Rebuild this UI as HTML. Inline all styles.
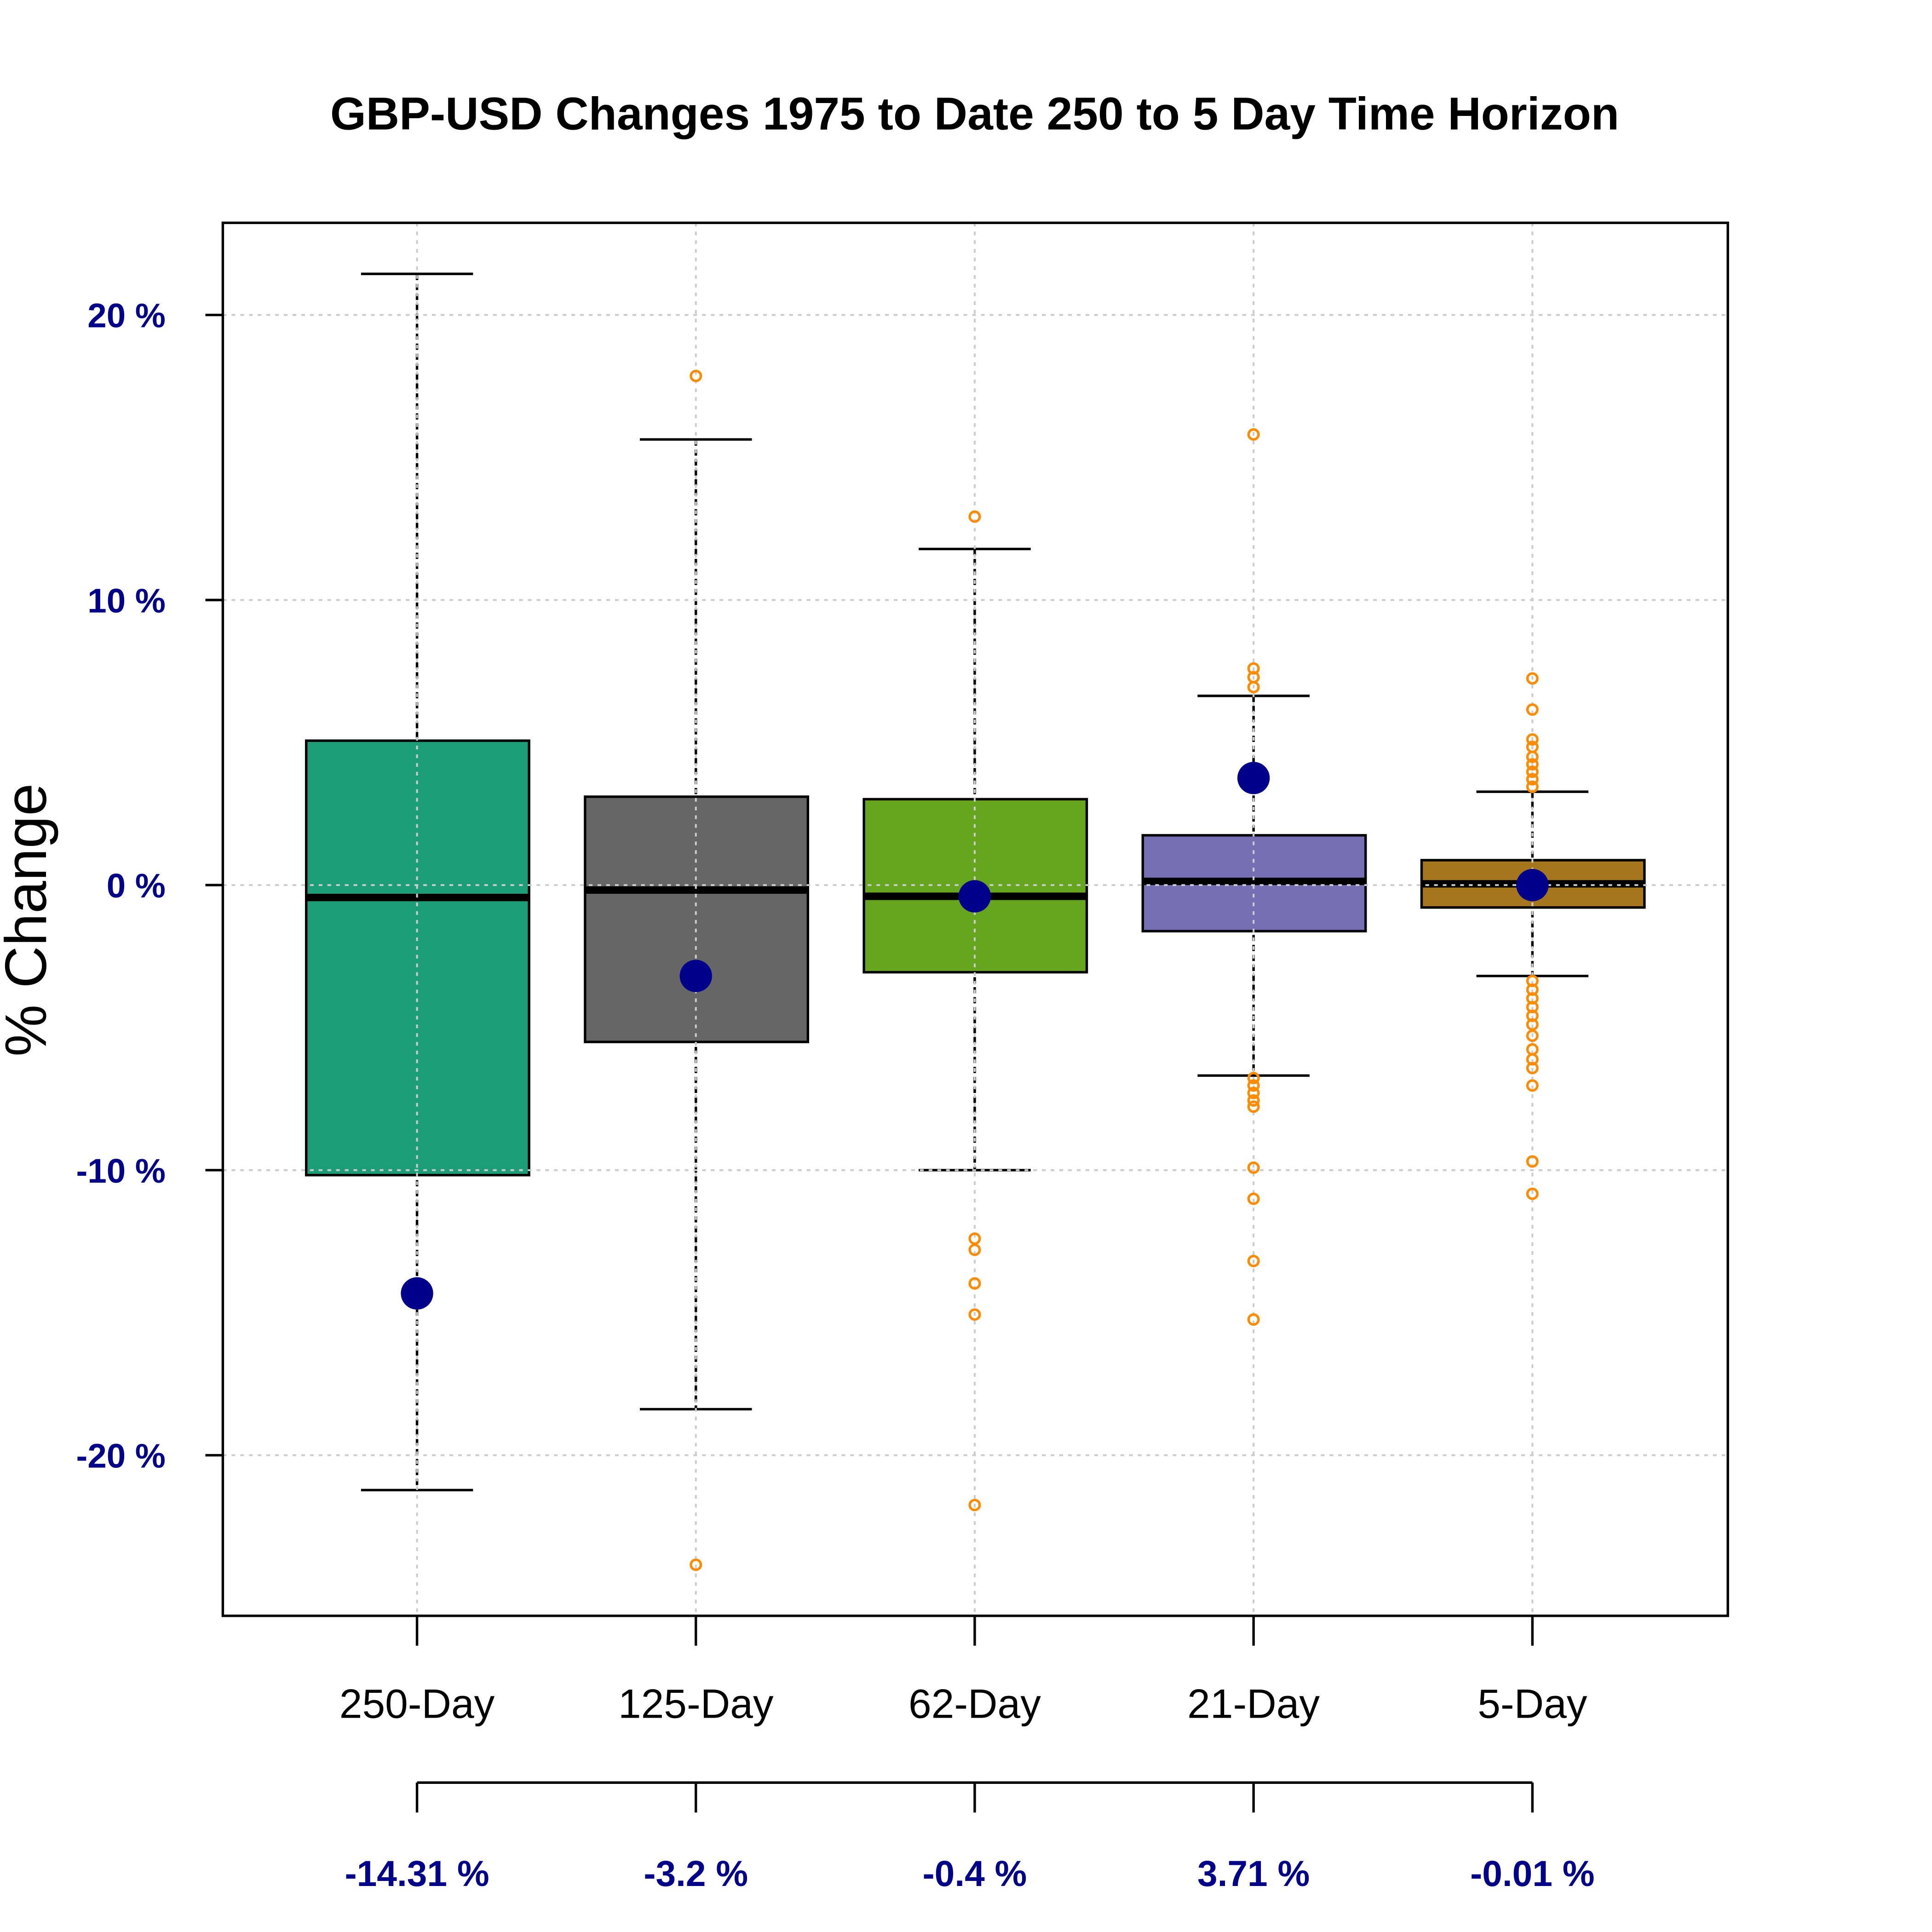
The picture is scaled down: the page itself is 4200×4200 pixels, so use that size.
<!DOCTYPE html>
<html><head><meta charset="utf-8"><style>html,body{margin:0;padding:0;background:#fff}svg{display:block}</style></head>
<body>
<svg xmlns="http://www.w3.org/2000/svg" width="4200" height="4200" viewBox="0 0 1552 1552" font-family="Liberation Sans, sans-serif">
<rect width="1552" height="1552" fill="#fff"/>
<text x="783" y="104" font-size="37" font-weight="bold" text-anchor="middle">GBP-USD Changes 1975 to Date 250 to 5 Day Time Horizon</text>
<g stroke="#000" stroke-width="2" fill="none">
<line x1="335" y1="220" x2="335" y2="1197" stroke-dasharray="5,3"/>
<line x1="290" y1="220" x2="380" y2="220"/><line x1="290" y1="1197" x2="380" y2="1197"/>
<line x1="559" y1="353" x2="559" y2="1132" stroke-dasharray="5,3"/>
<line x1="514" y1="353" x2="604" y2="353"/><line x1="514" y1="1132" x2="604" y2="1132"/>
<line x1="783" y1="441" x2="783" y2="940" stroke-dasharray="5,3"/>
<line x1="738" y1="441" x2="828" y2="441"/><line x1="738" y1="940" x2="828" y2="940"/>
<line x1="1007" y1="559" x2="1007" y2="864" stroke-dasharray="5,3"/>
<line x1="962" y1="559" x2="1052" y2="559"/><line x1="962" y1="864" x2="1052" y2="864"/>
<line x1="1231" y1="636" x2="1231" y2="784" stroke-dasharray="5,3"/>
<line x1="1186" y1="636" x2="1276" y2="636"/><line x1="1186" y1="784" x2="1276" y2="784"/>
</g>
<g stroke="#000" stroke-width="2">
<rect x="246" y="595" width="179" height="349" fill="#1B9E77"/>
<rect x="470" y="640" width="179" height="197" fill="#666666"/>
<rect x="694" y="642" width="179" height="139" fill="#66A61E"/>
<rect x="918" y="671" width="179" height="77" fill="#7570B3"/>
<rect x="1142" y="691" width="179" height="38" fill="#A6761D"/>
</g>
<g stroke="#000" stroke-width="6">
<line x1="246" y1="721" x2="425" y2="721"/>
<line x1="470" y1="715" x2="649" y2="715"/>
<line x1="694" y1="720" x2="873" y2="720"/>
<line x1="918" y1="708" x2="1097" y2="708"/>
<line x1="1142" y1="710" x2="1321" y2="710"/>
</g>
<g stroke="#ccc" stroke-width="1.5" stroke-dasharray="3,4">
<line x1="179" y1="253" x2="1388" y2="253"/><line x1="179" y1="482" x2="1388" y2="482"/>
<line x1="179" y1="711" x2="1388" y2="711"/><line x1="179" y1="940" x2="1388" y2="940"/>
<line x1="179" y1="1169" x2="1388" y2="1169"/>
<line x1="335" y1="179" x2="335" y2="1298"/><line x1="559" y1="179" x2="559" y2="1298"/>
<line x1="783" y1="179" x2="783" y2="1298"/><line x1="1007" y1="179" x2="1007" y2="1298"/>
<line x1="1231" y1="179" x2="1231" y2="1298"/>
</g>
<g fill="none" stroke="#FF8C00" stroke-width="2">
<circle cx="559" cy="302" r="4"/><circle cx="559" cy="1257" r="4"/>
<circle cx="783" cy="415" r="4"/><circle cx="783" cy="995" r="4"/><circle cx="783" cy="1004" r="4"/><circle cx="783" cy="1031" r="4"/><circle cx="783" cy="1056" r="4"/><circle cx="783" cy="1209" r="4"/>
<circle cx="1007" cy="349" r="4"/><circle cx="1007" cy="537" r="4"/><circle cx="1007" cy="544" r="4"/><circle cx="1007" cy="552" r="4"/>
<circle cx="1007" cy="866" r="4"/><circle cx="1007" cy="872" r="4"/><circle cx="1007" cy="878" r="4"/><circle cx="1007" cy="884" r="4"/><circle cx="1007" cy="889" r="4"/>
<circle cx="1007" cy="938" r="4"/><circle cx="1007" cy="963" r="4"/><circle cx="1007" cy="1013" r="4"/><circle cx="1007" cy="1060" r="4"/>
<circle cx="1231" cy="545" r="4"/><circle cx="1231" cy="570" r="4"/><circle cx="1231" cy="594" r="4"/><circle cx="1231" cy="600" r="4"/><circle cx="1231" cy="608" r="4"/><circle cx="1231" cy="614" r="4"/><circle cx="1231" cy="620" r="4"/><circle cx="1231" cy="626" r="4"/><circle cx="1231" cy="632" r="4"/>
<circle cx="1231" cy="788" r="4"/><circle cx="1231" cy="795" r="4"/><circle cx="1231" cy="802" r="4"/><circle cx="1231" cy="809" r="4"/><circle cx="1231" cy="816" r="4"/><circle cx="1231" cy="823" r="4"/><circle cx="1231" cy="832" r="4"/><circle cx="1231" cy="843" r="4"/><circle cx="1231" cy="851" r="4"/><circle cx="1231" cy="858" r="4"/><circle cx="1231" cy="872" r="4"/><circle cx="1231" cy="933" r="4"/><circle cx="1231" cy="959" r="4"/>
</g>
<g fill="#00008B">
<circle cx="335" cy="1039" r="13"/><circle cx="559" cy="784" r="13"/><circle cx="783" cy="720" r="13"/><circle cx="1007" cy="625" r="13"/><circle cx="1231" cy="711" r="13"/>
</g>
<rect x="179" y="179" width="1209" height="1119" fill="none" stroke="#000" stroke-width="2"/>
<g stroke="#000" stroke-width="2">
<line x1="165" y1="253" x2="179" y2="253"/><line x1="165" y1="482" x2="179" y2="482"/><line x1="165" y1="711" x2="179" y2="711"/><line x1="165" y1="940" x2="179" y2="940"/><line x1="165" y1="1169" x2="179" y2="1169"/>
<line x1="335" y1="1298" x2="335" y2="1322"/><line x1="559" y1="1298" x2="559" y2="1322"/><line x1="783" y1="1298" x2="783" y2="1322"/><line x1="1007" y1="1298" x2="1007" y2="1322"/><line x1="1231" y1="1298" x2="1231" y2="1322"/>
<line x1="335" y1="1432" x2="1231" y2="1432"/>
<line x1="335" y1="1432" x2="335" y2="1456"/><line x1="559" y1="1432" x2="559" y2="1456"/><line x1="783" y1="1432" x2="783" y2="1456"/><line x1="1007" y1="1432" x2="1007" y2="1456"/><line x1="1231" y1="1432" x2="1231" y2="1456"/>
</g>
<g font-size="27.5" font-weight="bold" fill="#00008B" text-anchor="end">
<text x="133" y="263">20 %</text><text x="133" y="492">10 %</text><text x="133" y="721">0 %</text><text x="133" y="950">-10 %</text><text x="133" y="1179">-20 %</text>
</g>
<g font-size="33" text-anchor="middle">
<text x="335" y="1380">250-Day</text><text x="559" y="1380">125-Day</text><text x="783" y="1380">62-Day</text><text x="1007" y="1380">21-Day</text><text x="1231" y="1380">5-Day</text>
</g>
<g font-size="29" font-weight="bold" fill="#00008B" text-anchor="middle">
<text x="335" y="1515">-14.31 %</text><text x="559" y="1515">-3.2 %</text><text x="783" y="1515">-0.4 %</text><text x="1007" y="1515">3.71 %</text><text x="1231" y="1515">-0.01 %</text>
</g>
<text transform="translate(37,739) rotate(-90)" font-size="47" text-anchor="middle">% Change</text>
</svg>
</body></html>
